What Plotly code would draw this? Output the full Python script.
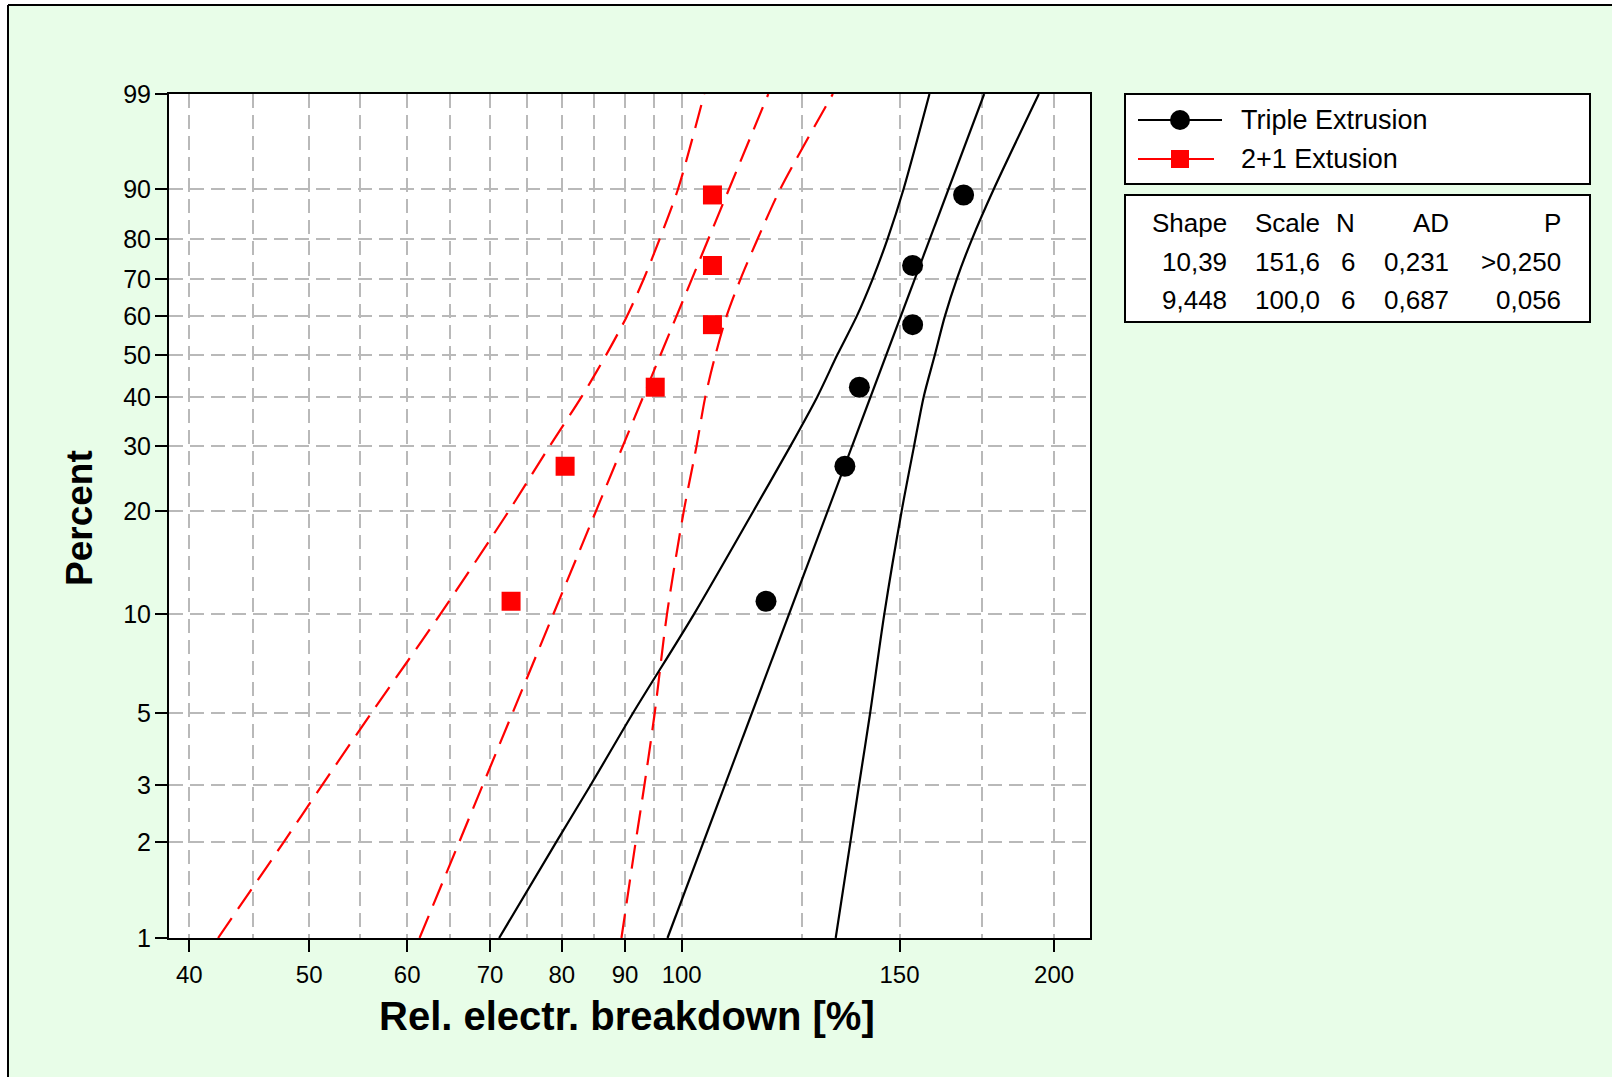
import numpy as np
import plotly.graph_objects as go

# ---------------- data ----------------
pct_ranks = [10.94, 26.56, 42.19, 57.81, 73.44, 89.06]
triple_x = [117.0, 135.5, 139.2, 153.7, 153.7, 169.0]
twoone_x = [72.8, 80.5, 95.2, 105.9, 105.9, 105.9]

fit_pct = [1, 99]
triple_fit = [97.4, 175.6]
twoone_fit = [61.4, 117.5]

band_pct = [1, 2, 3, 5, 10, 20, 30, 40, 50, 60, 70, 80, 90, 99]
triple_lo = [71.2, 79.2, 84.4, 91.3, 102.3, 114.3, 122.4, 128.7, 133.6, 138.5, 142.7, 146.7, 151.1, 158.6]
triple_hi = [133.2, 136.9, 139.1, 142.0, 145.8, 150.6, 154.1, 156.9, 160.2, 163.2, 166.9, 171.7, 178.7, 194.4]
twoone_lo = [42.2, 47.7, 51.2, 56.1, 63.8, 72.5, 78.2, 83.0, 86.9, 90.3, 93.2, 96.0, 99.3, 104.3]
twoone_hi = [89.4, 91.8, 93.3, 95.1, 97.3, 100.4, 102.8, 104.5, 106.5, 108.7, 111.6, 115.2, 120.1, 132.5]

y_ticks = [1, 2, 3, 5, 10, 20, 30, 40, 50, 60, 70, 80, 90, 99]
x_ticks = [40, 50, 60, 70, 80, 90, 100, 150, 200]
x_minor = [45, 55, 65, 75, 85, 95, 125, 175]

series_names = ["Triple Extrusion", "2+1 Extusion"]
stat_headers = ["Shape", "Scale", "N", "AD", "P"]
stat_triple = ["10,39", "151,6", "6", "0,231", ">0,250"]
stat_twoone = ["9,448", "100,0", "6", "0,687", "0,056"]

# ---------------- helpers ----------------
def wb(p):
    """Weibull probability scale for percent values."""
    p = np.asarray(p, dtype=float)
    return np.log(-np.log(1 - p / 100.0))

FONT = "Liberation Sans, Arial, sans-serif"
GREEN = "#E8FDE8"
RED = "#FF0000"

W, H = 1612, 1077
PL, PR, PT, PB = 169, 1090, 94, 938
def fx(px):
    return (px - PL) / (PR - PL)
def fy(py):
    return (PB - py) / (PB - PT)

fig = go.Figure()

RED_DASH = "24px,11px"
# confidence bands and fit lines
for xs in (twoone_lo, twoone_hi):
    fig.add_trace(go.Scatter(x=xs, y=wb(band_pct), mode="lines",
                             line=dict(color=RED, width=2.2, dash=RED_DASH, shape="spline", smoothing=0.8),
                             showlegend=False, hoverinfo="skip"))
fig.add_trace(go.Scatter(x=twoone_fit, y=wb(fit_pct), mode="lines",
                         line=dict(color=RED, width=2.2, dash=RED_DASH),
                         showlegend=False, hoverinfo="skip"))
for xs in (triple_lo, triple_hi):
    fig.add_trace(go.Scatter(x=xs, y=wb(band_pct), mode="lines",
                             line=dict(color="black", width=2.2, shape="spline", smoothing=0.8),
                             showlegend=False, hoverinfo="skip"))
fig.add_trace(go.Scatter(x=triple_fit, y=wb(fit_pct), mode="lines",
                         line=dict(color="black", width=2.2),
                         showlegend=False, hoverinfo="skip"))

# data points
fig.add_trace(go.Scatter(x=triple_x, y=wb(pct_ranks), mode="markers", name=series_names[0],
                         marker=dict(symbol="circle", size=21, color="black"),
                         showlegend=False))
fig.add_trace(go.Scatter(x=twoone_x, y=wb(pct_ranks), mode="markers", name=series_names[1],
                         marker=dict(symbol="square", size=19, color=RED),
                         showlegend=False))

grid_col = "#B9B9B9"
GDASH = "14px,7px"
fig.update_xaxes(
    type="log",
    range=[np.log10(40) - (189.3 - PL) / 1237.2, np.log10(200) + (PR - 1054.1) / 1237.2],
    tickmode="array", tickvals=x_ticks, ticktext=[str(v) for v in x_ticks],
    ticks="outside", ticklen=12, tickwidth=2, tickcolor="black",
    ticklabelstandoff=2,
    showgrid=True, gridcolor=grid_col, gridwidth=2.4, griddash=GDASH,
    minor=dict(tickvals=x_minor, ticklen=0, showgrid=True, gridcolor=grid_col,
               gridwidth=2.4, griddash=GDASH),
    showline=True, linecolor="black", linewidth=2, mirror=True,
    tickfont=dict(family=FONT, size=24, color="black"),
    zeroline=False,
)
fig.update_yaxes(
    range=[float(wb(1)), float(wb(99))],
    tickmode="array", tickvals=list(wb(y_ticks)), ticktext=[str(v) for v in y_ticks],
    ticks="outside", ticklen=12, tickwidth=2, tickcolor="black",
    ticklabelstandoff=-1,
    showgrid=True, gridcolor=grid_col, gridwidth=2.4, griddash=GDASH,
    showline=True, linecolor="black", linewidth=2, mirror=True,
    tickfont=dict(family=FONT, size=25, color="black"),
    zeroline=False,
)

shapes = []
annotations = []

# outer frame (white outside, black left/top border)
shapes.append(dict(type="rect", xref="paper", yref="paper", x0=fx(-20), x1=fx(8), y0=fy(W + 50), y1=fy(-20),
                   fillcolor="white", line=dict(width=0), layer="above"))
shapes.append(dict(type="rect", xref="paper", yref="paper", x0=fx(-20), x1=fx(W + 20), y0=fy(5), y1=fy(-20),
                   fillcolor="white", line=dict(width=0), layer="above"))
shapes.append(dict(type="line", xref="paper", yref="paper", x0=fx(8), x1=fx(8), y0=fy(5), y1=fy(H + 20),
                   line=dict(color="black", width=2)))
shapes.append(dict(type="line", xref="paper", yref="paper", x0=fx(8), x1=fx(W + 20), y0=fy(5), y1=fy(5),
                   line=dict(color="black", width=2)))

# legend box
shapes.append(dict(type="rect", xref="paper", yref="paper", x0=fx(1125), x1=fx(1590), y0=fy(184), y1=fy(94),
                   fillcolor="white", line=dict(color="black", width=2)))
shapes.append(dict(type="rect", xref="paper", yref="paper", x0=fx(1125), x1=fx(1590), y0=fy(322), y1=fy(195),
                   fillcolor="white", line=dict(color="black", width=2)))
# legend swatches
shapes.append(dict(type="line", xref="paper", yref="paper", x0=fx(1138), x1=fx(1222), y0=fy(120), y1=fy(120),
                   line=dict(color="black", width=2)))
shapes.append(dict(type="circle", xref="paper", yref="paper", x0=fx(1170), x1=fx(1190), y0=fy(130), y1=fy(110),
                   fillcolor="black", line=dict(color="black", width=0)))
shapes.append(dict(type="line", xref="paper", yref="paper", x0=fx(1138), x1=fx(1214), y0=fy(159), y1=fy(159),
                   line=dict(color=RED, width=2)))
shapes.append(dict(type="rect", xref="paper", yref="paper", x0=fx(1171), x1=fx(1189), y0=fy(168), y1=fy(150),
                   fillcolor=RED, line=dict(color=RED, width=0)))

for name, py in zip(series_names, [120, 159]):
    annotations.append(dict(text=name, xref="paper", yref="paper", x=fx(1239), y=fy(py),
                            xanchor="left", yanchor="middle", showarrow=False,
                            font=dict(family=FONT, size=27, color="black")))

col_right = [1229, 1322, 1357, 1451, 1563]
for row, py in zip([stat_headers, stat_triple, stat_twoone], [223, 262, 300]):
    for txt, cx in zip(row, col_right):
        annotations.append(dict(text=txt, xref="paper", yref="paper", x=fx(cx), y=fy(py),
                                xanchor="right", yanchor="middle", showarrow=False,
                                font=dict(family=FONT, size=26, color="black")))

# axis titles
annotations.append(dict(text="<b>Rel. electr. breakdown [%]</b>", xref="paper", yref="paper",
                        x=fx(627), y=fy(1016), xanchor="center", yanchor="middle", showarrow=False,
                        font=dict(family=FONT, size=40, color="black")))
annotations.append(dict(text="<b>Percent</b>", xref="paper", yref="paper",
                        x=fx(79), y=fy(518), xanchor="center", yanchor="middle", showarrow=False,
                        textangle=-90, font=dict(family=FONT, size=37, color="black")))

fig.update_layout(
    width=W, height=H,
    margin=dict(l=PL, r=W - PR, t=PT, b=H - PB, pad=0),
    paper_bgcolor=GREEN, plot_bgcolor="white",
    shapes=shapes, annotations=annotations,
    showlegend=False,
    font=dict(family=FONT, color="black"),
)

fig.write_html("out.html", config={"displayModeBar": False},
               post_script="document.body.style.margin='0';document.body.style.overflow='hidden';")
